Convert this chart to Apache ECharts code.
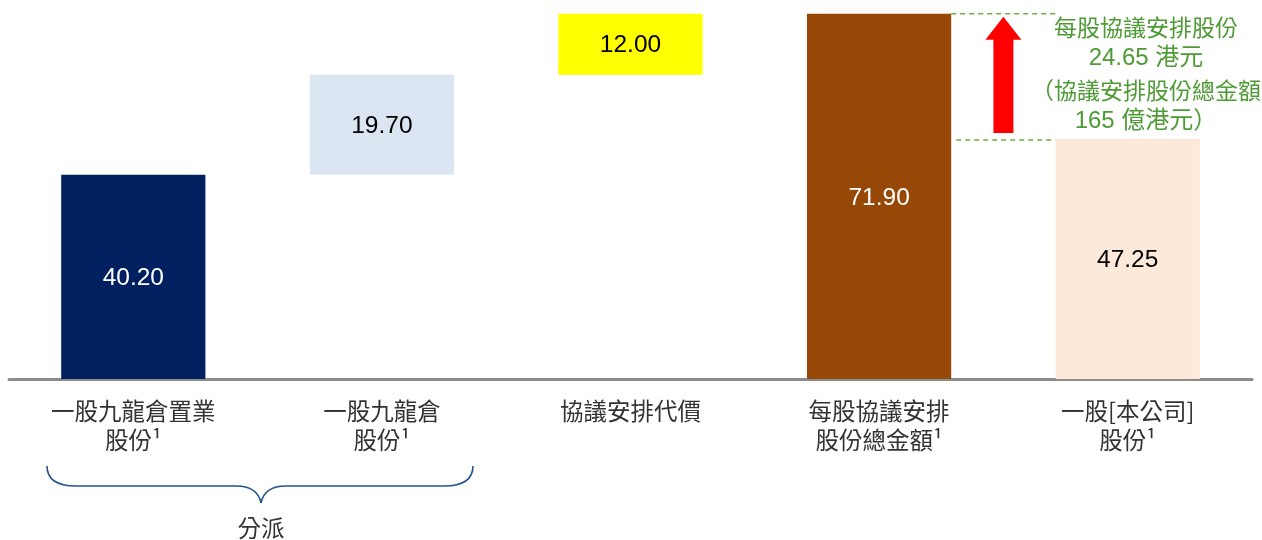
<!DOCTYPE html>
<html>
<head>
<meta charset="utf-8">
<style>html,body{margin:0;padding:0;background:#fff;}#c{width:1262px;height:540px;}</style>
<script src="https://cdn.jsdelivr.net/npm/echarts@6/dist/echarts.min.js"></script>
</head>
<body>
<div id="c"></div>
<script>
// ---- data ----
const categories = ['一股九龍倉置業\n股份¹', '一股九龍倉\n股份¹', '協議安排代價', '每股協議安排\n股份總金額¹', '一股[本公司]\n股份¹'];
const values = [40.20, 19.70, 12.00, 71.90, 47.25];
const offsets = [0, 40.20, 59.90, 0, 0];
const barColors = ['#002060', '#DCE6F2', '#FFFF00', '#974706', '#FDE9D9'];
const labelColors = ['#ffffff', '#000000', '#000000', '#ffffff', '#000000'];
const arrowFrom = 47.25, arrowTo = 71.90;
const noteLines = ['每股協議安排股份', '24.65 港元', '（協議安排股份總金額', '165 億港元）'];
const braceLabel = '分派';

const chart = echarts.init(document.getElementById('c'));
const CJK = '"Noto Sans CJK TC", "Noto Sans CJK SC", sans-serif';
const LAT = '"Liberation Sans", Arial, "Noto Sans CJK TC", sans-serif';
const green = '#70AD47';
const textGreen = '#4E9A35';
const braceColor = '#24538A';

function bez(p1, c1, c2, p2) {
  return { type: 'bezierCurve', shape: { x1: p1[0], y1: p1[1], cpx1: c1[0], cpy1: c1[1], cpx2: c2[0], cpy2: c2[1], x2: p2[0], y2: p2[1] },
    style: { fill: 'none', stroke: braceColor, lineWidth: 1.6 } };
}
function seg(p1, p2) {
  return { type: 'line', shape: { x1: p1[0], y1: p1[1], x2: p2[0], y2: p2[1] }, style: { stroke: braceColor, lineWidth: 1.6 } };
}

chart.setOption({
  animation: false,
  grid: { left: 9, right: 10, top: 0, bottom: 161 },
  xAxis: [{
    type: 'category', data: categories,
    axisLine: { lineStyle: { color: '#8C8C8C', width: 3 } },
    axisTick: { show: false },
    axisLabel: { color: '#333333', fontSize: 23.5, fontFamily: CJK, lineHeight: 29.5, margin: 17, interval: 0 }
  }, {
    type: 'value', min: -0.5, max: 4.5, show: false
  }],
  yAxis: { type: 'value', min: 0, max: 74.6, show: false },
  series: [{
    type: 'bar', stack: 'w', barWidth: '58%', data: offsets,
    itemStyle: { color: 'transparent' }, silent: true
  }, {
    type: 'bar', stack: 'w', barWidth: '58%',
    data: values.map((v, i) => ({
      value: v,
      itemStyle: { color: barColors[i] },
      label: { color: labelColors[i] }
    })),
    label: { show: true, position: 'inside', offset: [0, 1.5], fontSize: 24.5, fontFamily: LAT, formatter: p => p.value.toFixed(2) }
  }, {
    type: 'custom', xAxisIndex: 1, yAxisIndex: 0, silent: true,
    data: [[3.5, arrowFrom, arrowTo]],
    renderItem: function (params, api) {
      const x = api.coord([api.value(0), 0])[0];
      const yBot = api.coord([0, api.value(1)])[1] - 6;
      const yTop = api.coord([0, api.value(2)])[1] + 3;
      const headLen = 23, headHalf = 18, shaftHalf = 10;
      const xl1 = api.coord([3.29, 0])[0], xr1 = api.coord([3.71, 0])[0];
      const yUp = api.coord([0, api.value(2)])[1];
      const yLo = api.coord([0, api.value(1)])[1];
      return {
        type: 'group',
        children: [{
          type: 'polygon',
          shape: { points: [
            [x, yTop], [x + headHalf, yTop + headLen], [x + shaftHalf, yTop + headLen],
            [x + shaftHalf, yBot], [x - shaftHalf, yBot], [x - shaftHalf, yTop + headLen],
            [x - headHalf, yTop + headLen]
          ] },
          style: { fill: '#FF0000' }
        }, {
          type: 'line', shape: { x1: xl1, y1: yUp, x2: xr1 + 2, y2: yUp },
          style: { stroke: green, lineWidth: 1.6, lineDash: [5, 4] }
        }, {
          type: 'line', shape: { x1: xl1 + 5, y1: yLo + 1, x2: xr1, y2: yLo + 1 },
          style: { stroke: green, lineWidth: 1.6, lineDash: [5, 4] }
        }]
      };
    }
  }],
  graphic: [
    ...noteLines.map((t, i) => ({
      type: 'text', x: 1146, y: 27.5 + i * 31.3,
      style: {
        text: t, align: 'center', verticalAlign: 'middle',
        fill: textGreen, fontSize: (i === 1 || i === 3) ? 24 : 23,
        fontFamily: (i === 1 || i === 3) ? LAT : CJK
      }
    })),
    bez([47, 466], [47, 479], [56, 486], [76, 486]),
    seg([76, 486], [236, 486]),
    bez([236, 486], [252, 486], [259, 493], [261, 503]),
    bez([261, 503], [263, 493], [270, 486], [286, 486]),
    seg([286, 486], [444, 486]),
    bez([444, 486], [464, 486], [473, 479], [473, 466]),
    {
      type: 'text', x: 261, y: 528,
      style: { text: braceLabel, align: 'center', verticalAlign: 'middle', fill: '#333333', fontSize: 23.5, fontFamily: CJK }
    }
  ]
});
</script>
</body>
</html>
